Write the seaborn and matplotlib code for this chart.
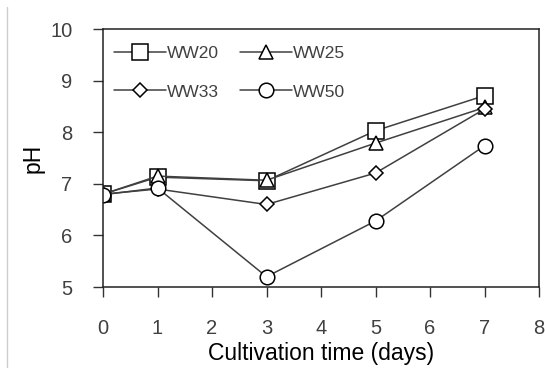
import numpy as np
import pandas as pd
import seaborn as sns
import matplotlib.pyplot as plt
from matplotlib.lines import Line2D

days = [0, 1, 3, 5, 7]
ww20 = [6.80, 7.13, 7.06, 8.03, 8.71]
ww25 = [6.80, 7.15, 7.07, 7.79, 8.48]
ww33 = [6.80, 6.90, 6.60, 7.21, 8.45]
ww50 = [6.79, 6.92, 5.20, 6.28, 7.74]
series = ["WW20", "WW25", "WW33", "WW50"]
markers = {"WW20": "s", "WW25": "^", "WW33": "D", "WW50": "o"}
msizes = {"WW20": 11, "WW25": 10.5, "WW33": 7.5, "WW50": 10.5}

df = pd.DataFrame({
    "day": days * 4,
    "pH": ww20 + ww25 + ww33 + ww50,
    "group": np.repeat(series, len(days)),
})

sns.set_style("white")
plt.rcParams["font.family"] = ["Liberation Sans", "DejaVu Sans"]

fig = plt.figure(figsize=(5.45, 3.68), dpi=100)
ax = fig.add_axes([0.189, 0.22, 0.8, 0.701])

for name in series:
    sub = df[df["group"] == name]
    sns.lineplot(data=sub, x="day", y="pH", ax=ax, color="#404040", lw=1.1,
                 marker=markers[name], markersize=msizes[name],
                 mfc="white", mec="black", mew=1.1, label=name)

ax.set_xlim(0, 8)
ax.set_ylim(5, 10)
ax.set_xticks(range(9))
ax.set_yticks(range(5, 11))
ax.tick_params(axis="both", direction="out", length=7, width=1, color="#333333",
               labelsize=14.5, labelcolor="#404040", bottom=True, left=True)
ax.tick_params(axis="x", pad=16)
ax.tick_params(axis="y", pad=15)
for sp in ax.spines.values():
    sp.set_color("#222222")
    sp.set_linewidth(1.1)
ax.set_xlabel("Cultivation time (days)", fontsize=16.5, color="black", labelpad=3)
ax.set_ylabel("pH", fontsize=16.5, color="black", labelpad=4)

handles, labels = ax.get_legend_handles_labels()
order = [0, 2, 1, 3]
ax.legend([handles[i] for i in order], [labels[i] for i in order], ncol=2,
          frameon=False, loc="upper left",
          fontsize=12.5, labelcolor="#404040", handlelength=3.0,
          handletextpad=0.05, columnspacing=1.2, labelspacing=1.35,
          borderaxespad=0.0, bbox_to_anchor=(0.01, 0.962))

fig.add_artist(Line2D([0.013, 0.013], [0.0, 0.98], color="#cccccc", lw=1,
                      transform=fig.transFigure))

fig.savefig("out.png", dpi=100)
